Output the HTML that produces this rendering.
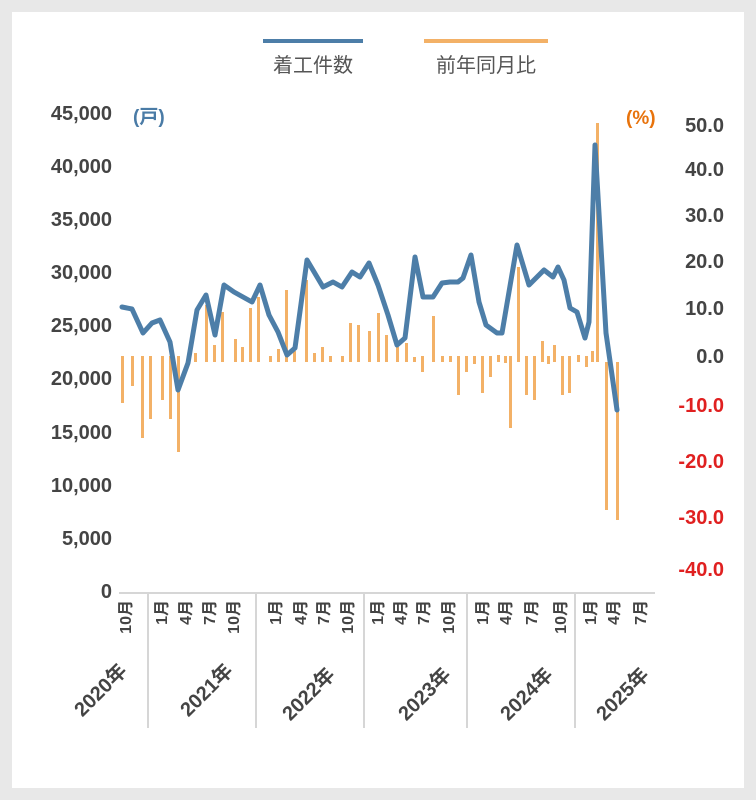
<!DOCTYPE html>
<html><head><meta charset="utf-8"><style>
html,body{margin:0;padding:0;background:#e8e8e8;}
svg{display:block;}
text{font-family:"Liberation Sans","Noto Sans CJK JP",sans-serif;}
</style></head><body>
<svg width="756" height="800" viewBox="0 0 756 800" xmlns="http://www.w3.org/2000/svg">
<rect x="0" y="0" width="756" height="800" fill="#e8e8e8"/>
<rect x="12" y="12" width="732" height="776" fill="#ffffff"/>
<line x1="263" y1="41" x2="363" y2="41" stroke="#4d7ea8" stroke-width="4"/>
<text x="313" y="72" font-size="20" fill="#555" text-anchor="middle">着工件数</text>
<line x1="424" y1="41" x2="548" y2="41" stroke="#f3b167" stroke-width="4"/>
<text x="486" y="72" font-size="20" fill="#555" text-anchor="middle">前年同月比</text>
<text x="133" y="123" font-size="19" font-weight="bold" fill="#4a7ba6">(戸)</text>
<text x="626" y="124" font-size="19" font-weight="bold" fill="#e8730c">(%)</text>
<g font-size="20" font-weight="bold" fill="#444" text-anchor="end">
<text x="112" y="120">45,000</text>
<text x="112" y="173">40,000</text>
<text x="112" y="226">35,000</text>
<text x="112" y="279">30,000</text>
<text x="112" y="332">25,000</text>
<text x="112" y="385">20,000</text>
<text x="112" y="439">15,000</text>
<text x="112" y="492">10,000</text>
<text x="112" y="545">5,000</text>
<text x="112" y="598">0</text>
</g>
<g font-size="20" font-weight="bold" text-anchor="end">
<text x="724" y="132" fill="#444">50.0</text>
<text x="724" y="176" fill="#444">40.0</text>
<text x="724" y="222" fill="#444">30.0</text>
<text x="724" y="268" fill="#444">20.0</text>
<text x="724" y="315" fill="#444">10.0</text>
<text x="724" y="363" fill="#444">0.0</text>
<text x="724" y="412" fill="#e02020">-10.0</text>
<text x="724" y="468" fill="#e02020">-20.0</text>
<text x="724" y="524" fill="#e02020">-30.0</text>
<text x="724" y="576" fill="#e02020">-40.0</text>
</g>
<line x1="119" y1="593" x2="655" y2="593" stroke="#d6d6d6" stroke-width="2"/>
<g stroke="#d6d6d6" stroke-width="2">
<line x1="148" y1="593" x2="148" y2="728"/>
<line x1="256" y1="593" x2="256" y2="728"/>
<line x1="364" y1="593" x2="364" y2="728"/>
<line x1="467" y1="593" x2="467" y2="728"/>
<line x1="575" y1="593" x2="575" y2="728"/>
</g>
<g fill="#f3b167">
<rect x="121" y="356" width="3" height="47"/>
<rect x="131" y="356" width="3" height="30"/>
<rect x="141" y="356" width="3" height="82"/>
<rect x="149" y="356" width="3" height="63"/>
<rect x="161" y="356" width="3" height="44"/>
<rect x="169" y="356" width="3" height="63"/>
<rect x="177" y="356" width="3" height="96"/>
<rect x="194" y="353" width="3" height="9"/>
<rect x="205" y="305" width="3" height="57"/>
<rect x="213" y="345" width="3" height="17"/>
<rect x="221" y="312" width="3" height="50"/>
<rect x="234" y="339" width="3" height="23"/>
<rect x="241" y="347" width="3" height="15"/>
<rect x="249" y="308" width="3" height="54"/>
<rect x="257" y="297" width="3" height="65"/>
<rect x="269" y="356" width="3" height="6"/>
<rect x="277" y="349" width="3" height="13"/>
<rect x="285" y="290" width="3" height="72"/>
<rect x="293" y="351" width="3" height="11"/>
<rect x="305" y="280" width="3" height="82"/>
<rect x="313" y="353" width="3" height="9"/>
<rect x="321" y="347" width="3" height="15"/>
<rect x="329" y="356" width="3" height="6"/>
<rect x="341" y="356" width="3" height="6"/>
<rect x="349" y="323" width="3" height="39"/>
<rect x="357" y="325" width="3" height="37"/>
<rect x="368" y="331" width="3" height="31"/>
<rect x="377" y="313" width="3" height="49"/>
<rect x="385" y="335" width="3" height="27"/>
<rect x="396" y="347" width="3" height="15"/>
<rect x="405" y="343" width="3" height="19"/>
<rect x="413" y="357" width="3" height="5"/>
<rect x="421" y="356" width="3" height="16"/>
<rect x="432" y="316" width="3" height="46"/>
<rect x="441" y="356" width="3" height="6"/>
<rect x="449" y="356" width="3" height="6"/>
<rect x="457" y="356" width="3" height="39"/>
<rect x="465" y="356" width="3" height="16"/>
<rect x="473" y="356" width="3" height="8"/>
<rect x="481" y="356" width="3" height="37"/>
<rect x="489" y="356" width="3" height="21"/>
<rect x="497" y="355" width="3" height="7"/>
<rect x="504" y="356" width="3" height="7"/>
<rect x="509" y="356" width="3" height="72"/>
<rect x="517" y="267" width="3" height="95"/>
<rect x="525" y="356" width="3" height="39"/>
<rect x="533" y="356" width="3" height="44"/>
<rect x="541" y="341" width="3" height="21"/>
<rect x="547" y="356" width="3" height="8"/>
<rect x="553" y="345" width="3" height="17"/>
<rect x="561" y="356" width="3" height="39"/>
<rect x="568" y="356" width="3" height="37"/>
<rect x="577" y="355" width="3" height="7"/>
<rect x="585" y="356" width="3" height="11"/>
<rect x="591" y="351" width="3" height="11"/>
<rect x="596" y="123" width="3" height="239"/>
<rect x="605" y="362" width="3" height="148"/>
<rect x="616" y="362" width="3" height="158"/>
</g>
<polyline fill="none" stroke="#4d7ea8" stroke-width="5" stroke-linejoin="round" stroke-linecap="round"
points="122,307 132,309 143,333 152,323 160,320 170,342 178,390 188,363 197,310 206,295 215,335 224,285 234,292 243,297 252,302 260,285 269,315 278,332 287,355 295,348 307,260 323,287 333,282 342,287 352,272 360,277 369,263 378,285 388,315 397,345 405,338 415,257 423,297 433,297 442,283 450,282 458,282 463,278 471,255 479,302 486,325 497,333 502,333 517,245 529,285 537,277 544,270 553,277 558,267 564,280 570,308 577,312 585,338 589,322 595,145 606,333 617,410"/>
<g font-size="16" font-weight="bold" fill="#444" text-anchor="end">
<text transform="translate(131,600) rotate(-90)">10月</text>
<text transform="translate(167,600) rotate(-90)">1月</text>
<text transform="translate(191,600) rotate(-90)">4月</text>
<text transform="translate(215,600) rotate(-90)">7月</text>
<text transform="translate(239,600) rotate(-90)">10月</text>
<text transform="translate(281,600) rotate(-90)">1月</text>
<text transform="translate(306,600) rotate(-90)">4月</text>
<text transform="translate(329,600) rotate(-90)">7月</text>
<text transform="translate(353,600) rotate(-90)">10月</text>
<text transform="translate(383,600) rotate(-90)">1月</text>
<text transform="translate(406,600) rotate(-90)">4月</text>
<text transform="translate(429,600) rotate(-90)">7月</text>
<text transform="translate(454,600) rotate(-90)">10月</text>
<text transform="translate(488,600) rotate(-90)">1月</text>
<text transform="translate(511,600) rotate(-90)">4月</text>
<text transform="translate(537,600) rotate(-90)">7月</text>
<text transform="translate(566,600) rotate(-90)">10月</text>
<text transform="translate(596,600) rotate(-90)">1月</text>
<text transform="translate(619,600) rotate(-90)">4月</text>
<text transform="translate(646,600) rotate(-90)">7月</text>
</g>
<g font-size="20" font-weight="bold" fill="#444" text-anchor="end">
<text transform="translate(128,672) rotate(-45)">2020年</text>
<text transform="translate(234,672) rotate(-45)">2021年</text>
<text transform="translate(336,676) rotate(-45)">2022年</text>
<text transform="translate(452,676) rotate(-45)">2023年</text>
<text transform="translate(554,676) rotate(-45)">2024年</text>
<text transform="translate(650,676) rotate(-45)">2025年</text>
</g>
</svg>
</body></html>
